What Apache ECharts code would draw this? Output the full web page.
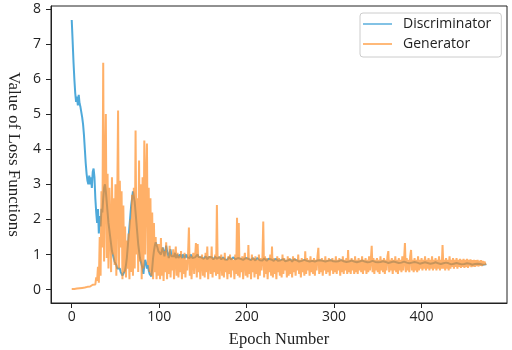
<!DOCTYPE html>
<html>
<head>
<meta charset="utf-8">
<script src="https://cdn.jsdelivr.net/npm/echarts@6/dist/echarts.min.js"></script>
<style>html,body{margin:0;padding:0;background:#fff;}#c{width:512px;height:350px;}</style>
</head>
<body>
<div id="c"></div>
<script>
const seriesNames = ['Discriminator', 'Generator'];
const xTicks = [0, 100, 200, 300, 400];
const yTicks = [0, 1, 2, 3, 4, 5, 6, 7, 8];
const xLabel = 'Epoch Number';
const yLabel = 'Value of Loss Functions';

const discriminatorLoss = [
7.68, 7.10, 6.50, 6.00, 5.60, 5.35, 5.50, 5.25, 5.55, 5.30,
5.20, 5.05, 4.90, 4.70, 4.40, 4.00, 3.60, 3.30, 3.10, 3.00,
3.25, 3.00, 3.20, 2.90, 3.35, 3.45, 3.20, 2.60, 2.20, 1.90,
2.30, 1.60, 2.10, 1.80, 2.30, 2.20, 2.60, 2.90, 3.00, 2.80,
2.50, 2.20, 1.90, 1.70, 1.50, 1.30, 1.10, 1.00, 0.90, 0.80,
0.75, 0.70, 0.60, 0.65, 0.55, 0.60, 0.50, 0.45, 0.40, 0.35,
0.40, 0.55, 0.70, 0.90, 1.20, 1.50, 1.80, 2.10, 2.40, 2.60,
2.80, 2.75, 2.50, 2.20, 1.90, 1.60, 1.30, 1.10, 0.90, 0.80,
0.75, 0.60, 0.45, 0.70, 0.85, 0.75, 0.60, 0.70, 0.55, 0.45,
0.40, 0.38, 0.60, 0.90, 1.10, 1.25, 1.35, 1.30, 1.20, 1.10,
1.05, 1.15, 1.00, 0.95, 1.20, 1.10, 0.95, 1.00, 1.25, 1.10, 1.00, 0.90, 1.05, 1.15, 0.95, 0.90, 1.00, 0.95, 1.05, 0.90, 0.95, 1.00, 0.90, 0.95, 1.00,
0.95, 0.90, 1.00, 0.95, 0.90, 0.95, 1.00, 0.92, 0.88, 0.95, 0.90, 1.00, 0.95, 0.90, 0.88, 0.95, 0.92, 0.90, 0.95, 1.00, 0.93, 0.90, 0.88, 0.92, 0.95,
0.90, 0.88, 0.92, 0.95, 0.90, 0.87, 0.90, 0.93, 0.90, 0.88, 0.92, 0.90, 0.86, 0.90, 0.94, 0.90, 0.88, 0.85, 0.90, 0.93, 0.88, 0.86, 0.90, 0.92, 0.88,
0.86, 0.90, 0.88, 0.85, 0.90, 0.93, 0.88, 0.86, 0.84, 0.88, 0.92, 0.90, 0.86, 0.84, 0.88, 0.90, 0.87, 0.85, 0.88, 0.91, 0.88, 0.85, 0.84, 0.88, 0.90,
0.87, 0.85, 0.88, 0.90, 0.86, 0.84, 0.87, 0.90, 0.88, 0.85, 0.83, 0.87, 0.90, 0.88, 0.85, 0.84, 0.88, 0.86, 0.83, 0.86, 0.89, 0.87, 0.84, 0.82, 0.86,
0.88, 0.85, 0.83, 0.86, 0.88, 0.85, 0.82, 0.85, 0.88, 0.86, 0.83, 0.82, 0.85, 0.87, 0.84, 0.82, 0.85, 0.87, 0.84, 0.81, 0.84, 0.86, 0.83, 0.81, 0.84,
0.86, 0.83, 0.80, 0.84, 0.86, 0.83, 0.81, 0.84, 0.86, 0.82, 0.80, 0.83, 0.85, 0.82, 0.80, 0.83, 0.85, 0.82, 0.80, 0.82, 0.85, 0.83, 0.80, 0.82, 0.84,
0.82, 0.85, 0.83, 0.80, 0.82, 0.85, 0.83, 0.80, 0.82, 0.84, 0.81, 0.79, 0.82, 0.84, 0.82, 0.80, 0.83, 0.85, 0.82, 0.80, 0.81, 0.84, 0.82, 0.79, 0.81,
0.84, 0.82, 0.80, 0.82, 0.84, 0.81, 0.79, 0.82, 0.84, 0.81, 0.79, 0.81, 0.83, 0.81, 0.79, 0.81, 0.83, 0.80, 0.78, 0.81, 0.83, 0.80, 0.78, 0.80, 0.83,
0.81, 0.78, 0.80, 0.82, 0.80, 0.78, 0.80, 0.83, 0.81, 0.79, 0.80, 0.82, 0.80, 0.78, 0.80, 0.82, 0.79, 0.77, 0.80, 0.82, 0.79, 0.77, 0.79, 0.82, 0.80,
0.78, 0.79, 0.81, 0.79, 0.77, 0.79, 0.81, 0.79, 0.77, 0.79, 0.81, 0.78, 0.76, 0.79, 0.81, 0.78, 0.76, 0.78, 0.80, 0.78, 0.76, 0.78, 0.80, 0.78, 0.76,
0.78, 0.80, 0.77, 0.75, 0.78, 0.80, 0.77, 0.75, 0.77, 0.79, 0.77, 0.75, 0.77, 0.79, 0.77, 0.75, 0.77, 0.79, 0.76, 0.74, 0.77, 0.79, 0.76, 0.74, 0.76,
0.78, 0.76, 0.74, 0.76, 0.78, 0.76, 0.74, 0.76, 0.78, 0.75, 0.74, 0.76, 0.78, 0.75, 0.73, 0.76, 0.78, 0.75, 0.73, 0.75, 0.77, 0.75, 0.73, 0.75, 0.77,
0.75, 0.73, 0.75, 0.77, 0.74, 0.73, 0.75, 0.77, 0.74, 0.72, 0.75, 0.76, 0.74, 0.72, 0.74, 0.76, 0.74, 0.72, 0.74, 0.76, 0.73, 0.72, 0.74, 0.76, 0.73,
0.72, 0.74, 0.75, 0.73, 0.72, 0.74, 0.75, 0.73, 0.71, 0.73, 0.75, 0.73, 0.71, 0.73, 0.74, 0.72, 0.71, 0.73, 0.74, 0.72, 0.71, 0.73, 0.74, 0.72, 0.73
];

const generatorLoss = [
0.02, 0.02, 0.02, 0.02, 0.03, 0.03, 0.03, 0.03, 0.04, 0.04,
0.04, 0.05, 0.05, 0.05, 0.06, 0.06, 0.07, 0.07, 0.08, 0.08,
0.10, 0.09, 0.12, 0.10, 0.14, 0.12, 0.18, 0.15, 0.35, 0.25,
0.65, 0.20, 1.50, 0.40, 2.80, 1.20, 6.46, 0.80, 3.20, 5.00,
0.90, 3.30, 0.60, 2.90, 1.80, 0.50, 3.20, 1.00, 2.60, 0.70,
3.00, 0.40, 2.50, 5.10, 0.60, 3.10, 1.20, 2.80, 0.30, 2.40,
0.50, 1.80, 0.35, 1.40, 0.60, 1.60, 0.30, 2.00, 0.50, 2.70,
0.40, 2.90, 0.60, 4.53, 1.00, 2.60, 0.50, 3.68, 0.80, 3.00,
0.30, 3.20, 0.60, 4.25, 1.00, 3.10, 4.16, 0.70, 2.90, 0.50,
2.60, 0.40, 2.20, 0.30, 1.90, 0.50, 1.50, 0.30, 1.30, 0.40,
1.30, 0.30, 1.47, 0.40, 1.20, 0.25, 1.10, 0.50, 1.35, 0.30, 0.95, 0.45, 1.25, 0.35, 1.00, 0.55, 1.15, 0.30, 0.90, 1.23, 0.40, 1.05, 0.35, 0.95, 0.50,
1.10, 0.30, 0.90, 0.45, 1.05, 0.35, 0.85, 0.55, 1.00, 1.77, 0.40, 0.95, 0.30, 0.85, 1.05, 0.45, 0.90, 1.33, 0.35, 1.30, 0.50, 0.95, 0.30, 0.85, 1.00,
0.40, 0.90, 0.35, 1.05, 0.50, 1.23, 0.30, 0.85, 0.95, 0.45, 1.23, 0.35, 0.90, 0.50, 1.00, 0.40, 2.41, 0.45, 0.95, 0.30, 0.85, 1.00, 0.40, 0.90, 0.35,
1.05, 0.50, 0.85, 0.30, 0.95, 0.45, 1.00, 0.35, 0.90, 0.55, 0.85, 0.30, 1.00, 0.45, 2.05, 0.40, 1.90, 0.35, 0.90, 0.50, 0.95, 0.30, 0.85, 1.05, 0.40,
0.90, 0.35, 1.27, 0.45, 0.85, 0.30, 1.00, 0.50, 0.90, 0.35, 0.95, 0.45, 0.85, 0.30, 1.00, 0.40, 0.90, 0.55, 0.85, 1.94, 0.35, 0.95, 0.45, 0.90, 0.30,
0.85, 0.50, 1.00, 0.40, 1.23, 0.35, 0.90, 0.45, 0.85, 0.30, 0.95, 0.50, 0.90, 0.40, 0.85, 0.35, 1.00, 0.45, 0.90, 0.55, 0.85, 0.35, 0.95, 0.40, 0.90,
0.45, 0.85, 0.35, 0.95, 0.50, 0.90, 0.40, 0.85, 0.55, 1.00, 0.45, 0.85, 0.35, 0.90, 0.50, 0.85, 0.40, 1.09, 0.45, 0.90, 0.55, 0.85, 0.40, 0.95, 0.50,
0.85, 0.45, 0.90, 0.40, 0.85, 0.55, 0.95, 1.19, 0.45, 0.85, 0.50, 0.90, 0.40, 0.85, 0.55, 0.95, 0.45, 0.85, 0.50, 0.90, 0.40, 0.85, 0.55, 0.90, 0.45,
0.85, 0.50, 0.95, 0.45, 0.85, 0.55, 0.90, 0.40, 0.85, 0.50, 0.95, 0.45, 0.85, 0.55, 0.90, 0.45, 1.13, 0.50, 0.85, 0.45, 0.90, 0.55, 0.85, 0.45, 0.95,
0.50, 0.85, 0.45, 0.90, 0.55, 0.85, 0.50, 0.95, 0.45, 0.85, 0.55, 0.90, 0.45, 0.85, 0.50, 0.95, 0.55, 0.85, 1.25, 0.50, 0.90, 0.45, 0.85, 0.55, 0.90,
0.50, 0.85, 0.45, 0.95, 0.55, 0.85, 0.50, 0.90, 0.45, 0.85, 0.55, 0.95, 1.10, 0.50, 0.85, 0.55, 0.90, 0.45, 0.85, 0.55, 0.95, 0.50, 0.85, 0.45, 0.90,
0.55, 0.85, 0.50, 0.95, 0.55, 0.85, 1.33, 0.50, 0.90, 0.55, 0.85, 0.50, 0.95, 1.13, 0.55, 0.85, 0.50, 0.90, 0.55, 0.85, 0.50, 0.95, 0.55, 0.85, 0.60,
0.90, 0.55, 0.85, 0.60, 0.95, 0.55, 0.85, 0.60, 0.90, 0.55, 0.85, 0.60, 0.95, 0.55, 0.85, 0.60, 0.90, 0.55, 0.85, 0.60, 0.95, 0.55, 0.85, 0.60, 1.27,
0.60, 0.85, 0.55, 0.90, 0.60, 0.85, 0.55, 0.95, 0.60, 0.85, 0.65, 0.90, 0.60, 0.85, 0.65, 0.90, 0.60, 0.85, 0.65, 0.88, 0.62, 0.85, 0.65, 0.88, 0.62,
0.85, 0.65, 0.88, 0.62, 0.85, 0.66, 0.86, 0.64, 0.84, 0.66, 0.85, 0.65, 0.84, 0.67, 0.85, 0.66, 0.83, 0.68, 0.84, 0.67, 0.82, 0.70, 0.80, 0.72, 0.73
];

const toPairs = arr => arr.map((v, i) => [i, v]);
const sansFont = '"Open Sans", "DejaVu Sans", sans-serif';
const serifFont = '"Liberation Serif", "DejaVu Serif", serif';

const chart = echarts.init(document.getElementById('c'), null, { renderer: 'canvas' });
chart.setOption({
  animation: false,
  backgroundColor: '#ffffff',
  grid: { left: 51, right: 5, top: 6, bottom: 47, outerBoundsMode: 'none', containLabel: false, show: true, borderColor: '#222', borderWidth: 1, backgroundColor: 'transparent' },
  legend: {
    data: seriesNames,
    orient: 'vertical',
    left: 360, top: 13,
    padding: [4, 10, 6, 3],
    itemGap: 6,
    itemWidth: 29, itemHeight: 2,
    icon: 'rect',
    itemStyle: { opacity: 0.6 },
    borderColor: '#cccccc', borderWidth: 1, borderRadius: 3,
    backgroundColor: 'rgba(255,255,255,0.85)',
    textStyle: { fontFamily: sansFont, fontSize: 14, color: '#222', padding: [0, 0, 0, 6] }
  },
  xAxis: {
    type: 'value', min: -23.7, max: 497.7,
    name: xLabel, nameLocation: 'middle', nameGap: 28,
    nameTextStyle: { fontFamily: serifFont, fontSize: 16.5, color: '#222' },
    axisLine: { show: true, onZero: false, lineStyle: { color: '#222', width: 1 } },
    axisTick: { show: true, inside: false, length: 5, customValues: xTicks, lineStyle: { color: '#222' } },
    axisLabel: { customValues: xTicks, fontFamily: sansFont, fontSize: 14, color: '#222', margin: 7 },
    splitLine: { show: false }
  },
  yAxis: {
    type: 'value', min: -0.38, max: 8.08,
    name: yLabel, nameLocation: 'middle', nameGap: 28, nameRotate: -90,
    nameTextStyle: { fontFamily: serifFont, fontSize: 17, color: '#222' },
    axisLine: { show: true, onZero: false, lineStyle: { color: '#222', width: 1 } },
    axisTick: { show: true, inside: false, length: 5, customValues: yTicks, lineStyle: { color: '#222' } },
    axisLabel: { customValues: yTicks, fontFamily: sansFont, fontSize: 14, color: '#222', margin: 10 },
    splitLine: { show: false }
  },
  series: [
    {
      name: seriesNames[0], type: 'line', data: toPairs(discriminatorLoss),
      showSymbol: false, symbol: 'none', z: 2,
      color: '#2f9ad4',
      lineStyle: { width: 2, color: '#2f9ad4', opacity: 0.85 }
    },
    {
      name: seriesNames[1], type: 'line', data: toPairs(generatorLoss),
      showSymbol: false, symbol: 'none', z: 3,
      color: '#ff8a20',
      lineStyle: { width: 2, color: '#ff8a20', opacity: 0.68 }
    }
  ]
});
</script>
</body>
</html>
